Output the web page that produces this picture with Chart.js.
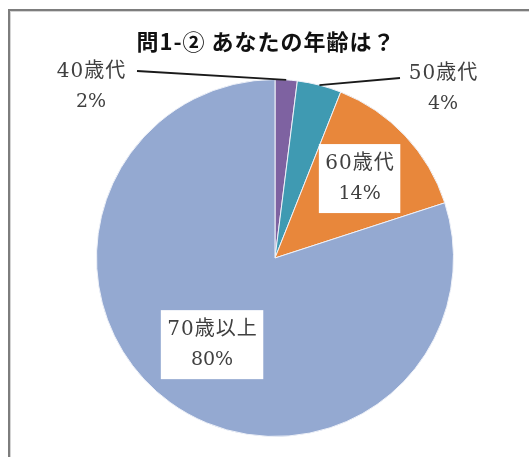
<!DOCTYPE html>
<html>
<head>
<meta charset="utf-8">
<script src="https://cdn.jsdelivr.net/npm/chart.js@4"></script>
<style>
  body { margin: 0; background: #fff; }
  #wrap { position: relative; width: 529px; height: 457px; overflow: hidden; }
  #frame {
    position: absolute; left: 8px; top: 9px; width: 700px; height: 700px;
    border-top: 2px solid #7d7d7d; border-left: 2px solid #7d7d7d;
    box-shadow: inset 1px 1px 0 #d4d4d4;
  }
  canvas { position: absolute; left: 0; top: 0; }
</style>
</head>
<body>
<div id="wrap">
  <div id="frame"></div>
  <canvas id="pie" width="529" height="457"></canvas>
</div>
<script>
// データ
const title = '問1-② あなたの年齢は？';
const categories = ['40歳代', '50歳代', '60歳代', '70歳以上'];
const shares = [2, 4, 14, 80];
const pctLabels = ['2%', '4%', '14%', '80%'];
const colors = ['#7E62A1', '#3F9AB2', '#E8873B', '#94A9D1'];

const gothic = '"Noto Sans CJK JP", sans-serif';
const catFont = '20px "DejaVu Serif", "Noto Sans CJK JP", serif';
const pctFont = '19px "DejaVu Serif", serif';

// ラベルの置き方（外側は引き出し線つき）
const labelPlaces = [
  { outside: true, dx: -184, dy: -186, lineX: -138, lineY: -187 },
  { outside: true, dx: 168, dy: -184, lineX: 125, lineY: -180 },
  { outside: false, f: 0.65 },
  { outside: false, f: 0.60 }
];

const labelPlugin = {
  id: 'pieLabels',
  afterDatasetsDraw(chart) {
    const ctx = chart.ctx;
    const meta = chart.getDatasetMeta(0);

    ctx.save();
    // タイトル
    ctx.font = '600 22px ' + gothic;
    ctx.fillStyle = '#111';
    ctx.textAlign = 'center';
    ctx.textBaseline = 'middle';
    ctx.letterSpacing = '1px';
    ctx.fillText(title, 266, 42);

    meta.data.forEach((arc, i) => {
      const p = arc.getProps(['x', 'y', 'startAngle', 'endAngle', 'outerRadius'], true);
      const mid = (p.startAngle + p.endAngle) / 2;
      const place = labelPlaces[i];
      let tx, ty;
      if (place.outside) {
        tx = p.x + place.dx;
        ty = p.y + place.dy;
        ctx.strokeStyle = '#1a1a1a';
        ctx.lineWidth = 1.8;
        ctx.beginPath();
        ctx.moveTo(p.x + place.lineX, p.y + place.lineY);
        ctx.lineTo(p.x + Math.cos(mid) * p.outerRadius, p.y + Math.sin(mid) * p.outerRadius);
        ctx.stroke();
      } else {
        const r = p.outerRadius * place.f;
        const cx = p.x + Math.cos(mid) * r;
        const cy = p.y + Math.sin(mid) * r;
        ctx.font = catFont;
        ctx.letterSpacing = '1px';
        const w = ctx.measureText(categories[i]).width + 12;
        const h = 69;
        ctx.fillStyle = '#fff';
        ctx.fillRect(cx - w / 2, cy - h / 2, w, h);
        tx = cx;
        ty = cy - 15;
      }
      ctx.fillStyle = '#404040';
      ctx.font = catFont;
      ctx.letterSpacing = '1px';
      ctx.fillText(categories[i], tx + 0.5, ty);
      ctx.font = pctFont;
      ctx.letterSpacing = '0px';
      ctx.fillText(pctLabels[i], tx, ty + 30);
    });
    ctx.restore();
  }
};

new Chart(document.getElementById('pie'), {
  type: 'pie',
  data: {
    labels: categories,
    datasets: [{
      data: shares,
      backgroundColor: colors,
      borderColor: '#eef1f8',
      borderWidth: 1
    }]
  },
  options: {
    responsive: false,
    devicePixelRatio: 1,
    animation: false,
    layout: { padding: { top: 79, bottom: 20, left: 21, right: 0 } },
    plugins: {
      legend: { display: false },
      title: { display: false },
      tooltip: { enabled: false }
    }
  },
  plugins: [labelPlugin]
});
</script>
</body>
</html>
